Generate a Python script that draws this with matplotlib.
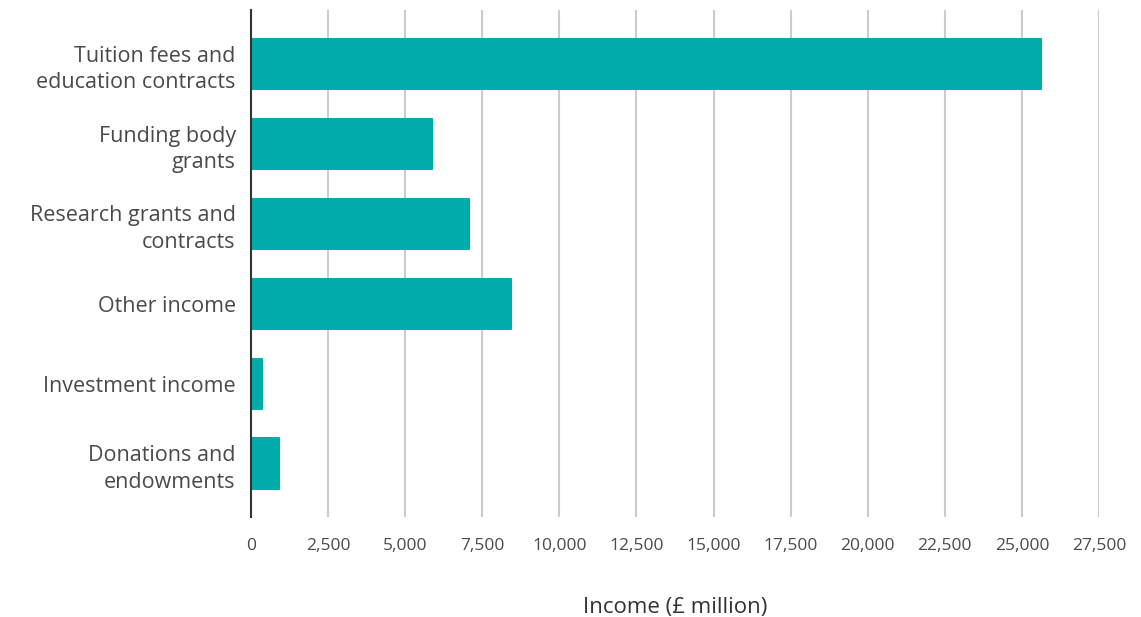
import matplotlib
matplotlib.use("Agg")
import matplotlib.pyplot as plt
from matplotlib.ticker import FuncFormatter

categories = ["Tuition fees and\neducation contracts", "Funding body\ngrants",
              "Research grants and\ncontracts", "Other income",
              "Investment income", "Donations and\nendowments"]
values = [25605, 5870, 7060, 8420, 356, 897]
ticks = list(range(0, 27501, 2500))

plt.rcParams['font.family'] = ['Open Sans', 'DejaVu Sans']
text_color = '#4a4a4a'
bar_color = '#00aba9'

fig = plt.figure(figsize=(11.41, 6.17), dpi=100)
ax = fig.add_axes([251/1141, 1-517/617, (1099-251)/1141, (517-10)/617])

y = list(range(len(categories)))
ax.barh(y, values, height=0.63, color=bar_color, edgecolor=bar_color,
        linewidth=1.5, joinstyle='round', zorder=3)
ax.set_ylim(len(categories) - 0.33, -0.68)
ax.set_xlim(0, 27500)
ax.set_xticks(ticks)
ax.xaxis.set_major_formatter(FuncFormatter(lambda v, p: f"{int(v):,}"))
ax.set_yticks(y)
ax.set_yticklabels(categories, fontsize=15.5, color=text_color, linespacing=1.35)
ax.tick_params(axis='x', labelsize=12.5, labelcolor=text_color, length=0, pad=15)
ax.tick_params(axis='y', length=0, pad=11)
ax.grid(axis='x', color='#cccccc', linewidth=1.5, zorder=0)
ax.set_axisbelow(True)
for s in ['top', 'right', 'bottom']:
    ax.spines[s].set_visible(False)
ax.spines['left'].set_color('#333333')
ax.spines['left'].set_linewidth(1.5)
ax.spines['left'].set_zorder(4)
ax.set_xlabel("Income (£ million)", fontsize=16, color='#333333', labelpad=31)

fig.savefig("out.png", dpi=100)
